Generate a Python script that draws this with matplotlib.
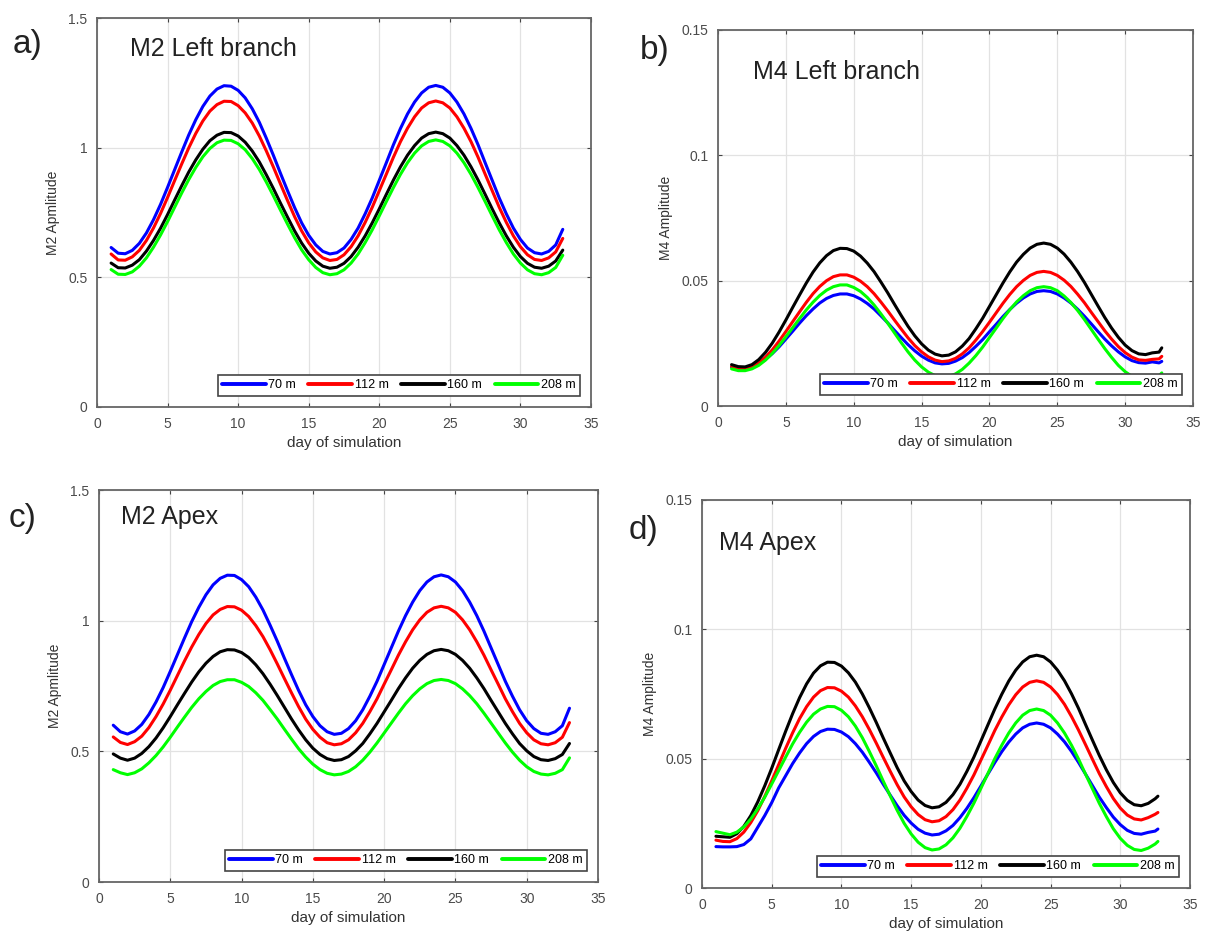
import numpy as np
import matplotlib.pyplot as plt

plt.rcParams['font.family'] = ['Liberation Sans', 'DejaVu Sans']

# ----------------------------
# data (half-day samples)
# ----------------------------
days_m2 = [1 + 0.5 * i for i in range(65)]
days_m4 = [1 + 0.5 * i for i in range(64)] + [32.7]
depths = ['70 m', '112 m', '160 m', '208 m']
colors = ['#0000ff', '#ff0000', '#000000', '#00ff00']

# a) M2 left branch
a_70 = [0.615, 0.593, 0.591, 0.604, 0.631, 0.671, 0.722, 0.781, 0.847, 0.915, 0.983, 1.049, 1.108, 1.159, 1.199, 1.226,
        1.239, 1.237, 1.221, 1.192, 1.150, 1.098, 1.036, 0.970, 0.901, 0.834, 0.769, 0.710, 0.662, 0.625, 0.600, 0.590,
        0.595, 0.613, 0.646, 0.690, 0.745, 0.806, 0.874, 0.942, 1.011, 1.074, 1.130, 1.176, 1.211, 1.233, 1.240, 1.233,
        1.211, 1.176, 1.130, 1.074, 1.011, 0.942, 0.874, 0.806, 0.745, 0.690, 0.646, 0.613, 0.595, 0.590, 0.600, 0.625,
        0.685]
a_112 = [0.590, 0.567, 0.566, 0.579, 0.604, 0.642, 0.690, 0.746, 0.808, 0.873, 0.937, 0.999, 1.055, 1.103, 1.141, 1.166,
         1.179, 1.178, 1.162, 1.134, 1.095, 1.045, 0.987, 0.925, 0.860, 0.796, 0.734, 0.679, 0.633, 0.598, 0.575, 0.565,
         0.569, 0.587, 0.618, 0.660, 0.712, 0.770, 0.834, 0.898, 0.963, 1.023, 1.075, 1.119, 1.153, 1.173, 1.180, 1.173,
         1.153, 1.119, 1.075, 1.023, 0.963, 0.898, 0.834, 0.770, 0.712, 0.660, 0.618, 0.587, 0.569, 0.565, 0.575, 0.598,
         0.650]
a_160 = [0.555, 0.537, 0.536, 0.547, 0.568, 0.601, 0.642, 0.689, 0.742, 0.798, 0.853, 0.906, 0.953, 0.994, 1.027, 1.048,
         1.059, 1.058, 1.045, 1.021, 0.987, 0.945, 0.895, 0.842, 0.786, 0.732, 0.679, 0.632, 0.593, 0.563, 0.543, 0.535,
         0.539, 0.554, 0.580, 0.616, 0.660, 0.710, 0.764, 0.820, 0.875, 0.926, 0.971, 1.008, 1.037, 1.054, 1.060, 1.054,
         1.037, 1.008, 0.971, 0.926, 0.875, 0.820, 0.764, 0.710, 0.660, 0.616, 0.580, 0.554, 0.539, 0.535, 0.543, 0.563,
         0.605]
a_208 = [0.530, 0.512, 0.511, 0.521, 0.543, 0.575, 0.616, 0.663, 0.715, 0.770, 0.825, 0.877, 0.924, 0.965, 0.997, 1.019,
         1.029, 1.028, 1.015, 0.992, 0.958, 0.916, 0.867, 0.814, 0.759, 0.705, 0.653, 0.606, 0.568, 0.538, 0.518, 0.510,
         0.514, 0.529, 0.555, 0.590, 0.634, 0.683, 0.737, 0.792, 0.846, 0.897, 0.942, 0.979, 1.007, 1.024, 1.030, 1.024,
         1.007, 0.979, 0.942, 0.897, 0.846, 0.792, 0.737, 0.683, 0.634, 0.590, 0.555, 0.529, 0.514, 0.510, 0.518, 0.538,
         0.585]

# b) M4 left branch
b_70 = [0.0155, 0.0149, 0.0149, 0.0155, 0.0167, 0.0186, 0.0209, 0.0236, 0.0267, 0.0298, 0.0330, 0.0360, 0.0387, 0.0411,
        0.0429, 0.0441, 0.0447, 0.0447, 0.0440, 0.0427, 0.0409, 0.0387, 0.0360, 0.0332, 0.0302, 0.0273, 0.0245, 0.0220,
        0.0199, 0.0183, 0.0172, 0.0168, 0.0170, 0.0179, 0.0193, 0.0213, 0.0238, 0.0265, 0.0296, 0.0326, 0.0357, 0.0385,
        0.0410, 0.0431, 0.0447, 0.0457, 0.0460, 0.0457, 0.0447, 0.0431, 0.0411, 0.0386, 0.0358, 0.0328, 0.0297, 0.0267,
        0.0240, 0.0216, 0.0196, 0.0181, 0.0173, 0.0171, 0.0176, 0.0172, 0.0178]
b_112 = [0.0158, 0.0150, 0.0149, 0.0156, 0.0172, 0.0195, 0.0224, 0.0259, 0.0297, 0.0336, 0.0375, 0.0413, 0.0448, 0.0477,
         0.0500, 0.0516, 0.0523, 0.0523, 0.0514, 0.0498, 0.0476, 0.0448, 0.0415, 0.0380, 0.0343, 0.0307, 0.0272, 0.0241,
         0.0216, 0.0196, 0.0183, 0.0177, 0.0180, 0.0190, 0.0208, 0.0232, 0.0263, 0.0297, 0.0334, 0.0372, 0.0410, 0.0445,
         0.0476, 0.0501, 0.0521, 0.0533, 0.0537, 0.0533, 0.0521, 0.0502, 0.0477, 0.0446, 0.0412, 0.0374, 0.0337, 0.0300,
         0.0267, 0.0237, 0.0213, 0.0195, 0.0184, 0.0182, 0.0186, 0.0188, 0.0198]
b_160 = [0.0165, 0.0157, 0.0156, 0.0165, 0.0185, 0.0214, 0.0251, 0.0295, 0.0343, 0.0393, 0.0442, 0.0490, 0.0534, 0.0571,
         0.0600, 0.0620, 0.0629, 0.0628, 0.0618, 0.0598, 0.0570, 0.0536, 0.0495, 0.0452, 0.0406, 0.0361, 0.0318, 0.0280,
         0.0248, 0.0223, 0.0207, 0.0200, 0.0203, 0.0216, 0.0239, 0.0269, 0.0308, 0.0350, 0.0397, 0.0444, 0.0491, 0.0535,
         0.0574, 0.0605, 0.0630, 0.0645, 0.0650, 0.0645, 0.0630, 0.0606, 0.0574, 0.0536, 0.0493, 0.0446, 0.0399, 0.0353,
         0.0311, 0.0274, 0.0243, 0.0221, 0.0208, 0.0205, 0.0212, 0.0215, 0.0232]
b_208 = [0.0148, 0.0141, 0.0141, 0.0148, 0.0162, 0.0183, 0.0210, 0.0241, 0.0276, 0.0312, 0.0348, 0.0383, 0.0414, 0.0441,
         0.0462, 0.0476, 0.0483, 0.0483, 0.0473, 0.0457, 0.0433, 0.0403, 0.0368, 0.0331, 0.0292, 0.0253, 0.0216, 0.0183,
         0.0156, 0.0135, 0.0121, 0.0115, 0.0118, 0.0128, 0.0146, 0.0171, 0.0201, 0.0235, 0.0273, 0.0311, 0.0349, 0.0384,
         0.0415, 0.0440, 0.0460, 0.0472, 0.0476, 0.0472, 0.0460, 0.0439, 0.0413, 0.0381, 0.0345, 0.0306, 0.0267, 0.0229,
         0.0194, 0.0162, 0.0137, 0.0118, 0.0108, 0.0105, 0.0111, 0.0120, 0.0132]

# c) M2 apex
c_70 = [0.600, 0.575, 0.566, 0.578, 0.603, 0.641, 0.689, 0.744, 0.806, 0.870, 0.934, 0.996, 1.051, 1.099, 1.137, 1.162,
        1.174, 1.173, 1.157, 1.130, 1.090, 1.041, 0.983, 0.922, 0.857, 0.794, 0.733, 0.678, 0.633, 0.598, 0.575, 0.565,
        0.569, 0.587, 0.617, 0.659, 0.711, 0.768, 0.832, 0.896, 0.960, 1.019, 1.071, 1.115, 1.148, 1.168, 1.175, 1.168,
        1.148, 1.115, 1.071, 1.019, 0.960, 0.896, 0.832, 0.768, 0.711, 0.659, 0.617, 0.587, 0.569, 0.565, 0.575, 0.598,
        0.665]
c_112 = [0.555, 0.534, 0.526, 0.537, 0.558, 0.591, 0.633, 0.681, 0.734, 0.790, 0.846, 0.899, 0.947, 0.989, 1.022, 1.043,
         1.054, 1.053, 1.040, 1.016, 0.981, 0.939, 0.889, 0.835, 0.779, 0.724, 0.671, 0.623, 0.584, 0.554, 0.533, 0.525,
         0.529, 0.544, 0.571, 0.607, 0.652, 0.701, 0.757, 0.812, 0.868, 0.919, 0.965, 1.003, 1.032, 1.049, 1.055, 1.049,
         1.032, 1.003, 0.965, 0.919, 0.868, 0.812, 0.757, 0.701, 0.652, 0.607, 0.571, 0.544, 0.529, 0.525, 0.533, 0.554,
         0.610]
c_160 = [0.490, 0.474, 0.466, 0.474, 0.492, 0.518, 0.551, 0.590, 0.633, 0.678, 0.722, 0.765, 0.804, 0.837, 0.863, 0.881,
         0.889, 0.888, 0.878, 0.859, 0.831, 0.797, 0.757, 0.714, 0.669, 0.624, 0.582, 0.544, 0.512, 0.488, 0.472, 0.465,
         0.468, 0.480, 0.502, 0.530, 0.567, 0.607, 0.651, 0.695, 0.740, 0.781, 0.818, 0.848, 0.871, 0.885, 0.890, 0.885,
         0.871, 0.848, 0.818, 0.781, 0.740, 0.695, 0.651, 0.607, 0.567, 0.530, 0.502, 0.480, 0.468, 0.465, 0.472, 0.488,
         0.530]
c_208 = [0.430, 0.418, 0.411, 0.418, 0.433, 0.456, 0.484, 0.517, 0.554, 0.593, 0.631, 0.668, 0.701, 0.729, 0.752, 0.767,
         0.774, 0.774, 0.764, 0.748, 0.724, 0.695, 0.660, 0.624, 0.585, 0.547, 0.510, 0.478, 0.451, 0.430, 0.416, 0.410,
         0.413, 0.423, 0.441, 0.466, 0.497, 0.532, 0.570, 0.608, 0.646, 0.682, 0.713, 0.739, 0.759, 0.771, 0.775, 0.771,
         0.759, 0.739, 0.713, 0.682, 0.646, 0.608, 0.570, 0.532, 0.497, 0.466, 0.441, 0.423, 0.413, 0.410, 0.416, 0.430,
         0.475]

# d) M4 apex
d_70 = [0.0160, 0.0159, 0.0159, 0.0160, 0.0168, 0.0190, 0.0235, 0.0280, 0.0330, 0.0387, 0.0434, 0.0481, 0.0522, 0.0558,
        0.0586, 0.0605, 0.0614, 0.0613, 0.0603, 0.0585, 0.0558, 0.0525, 0.0486, 0.0445, 0.0401, 0.0359, 0.0318, 0.0281,
        0.0251, 0.0227, 0.0212, 0.0205, 0.0208, 0.0221, 0.0242, 0.0272, 0.0308, 0.0349, 0.0394, 0.0440, 0.0485, 0.0527,
        0.0564, 0.0595, 0.0619, 0.0633, 0.0638, 0.0633, 0.0619, 0.0595, 0.0565, 0.0528, 0.0486, 0.0441, 0.0396, 0.0351,
        0.0311, 0.0274, 0.0245, 0.0223, 0.0211, 0.0208, 0.0215, 0.0220, 0.0228]
d_112 = [0.0185, 0.0180, 0.0179, 0.0191, 0.0216, 0.0253, 0.0299, 0.0354, 0.0414, 0.0477, 0.0540, 0.0600, 0.0655, 0.0701,
         0.0738, 0.0763, 0.0775, 0.0774, 0.0761, 0.0738, 0.0704, 0.0662, 0.0613, 0.0560, 0.0505, 0.0451, 0.0399, 0.0352,
         0.0314, 0.0284, 0.0264, 0.0256, 0.0260, 0.0276, 0.0303, 0.0340, 0.0386, 0.0437, 0.0494, 0.0551, 0.0609, 0.0661,
         0.0708, 0.0747, 0.0777, 0.0795, 0.0801, 0.0795, 0.0777, 0.0748, 0.0710, 0.0663, 0.0611, 0.0555, 0.0498, 0.0442,
         0.0392, 0.0346, 0.0309, 0.0282, 0.0267, 0.0263, 0.0272, 0.0285, 0.0292]
d_160 = [0.0200, 0.0198, 0.0196, 0.0210, 0.0238, 0.0280, 0.0333, 0.0395, 0.0463, 0.0535, 0.0606, 0.0674, 0.0736, 0.0789,
         0.0831, 0.0859, 0.0873, 0.0872, 0.0858, 0.0832, 0.0796, 0.0750, 0.0697, 0.0640, 0.0580, 0.0522, 0.0465, 0.0414,
         0.0373, 0.0340, 0.0319, 0.0310, 0.0314, 0.0331, 0.0361, 0.0401, 0.0451, 0.0506, 0.0568, 0.0630, 0.0692, 0.0749,
         0.0800, 0.0842, 0.0874, 0.0894, 0.0900, 0.0894, 0.0874, 0.0842, 0.0801, 0.0751, 0.0695, 0.0633, 0.0572, 0.0512,
         0.0457, 0.0408, 0.0368, 0.0339, 0.0322, 0.0318, 0.0327, 0.0345, 0.0355]
d_208 = [0.0218, 0.0212, 0.0206, 0.0216, 0.0236, 0.0267, 0.0306, 0.0351, 0.0402, 0.0454, 0.0506, 0.0557, 0.0602, 0.0641,
         0.0672, 0.0692, 0.0702, 0.0701, 0.0687, 0.0662, 0.0626, 0.0581, 0.0528, 0.0472, 0.0413, 0.0356, 0.0300, 0.0250,
         0.0209, 0.0177, 0.0156, 0.0147, 0.0151, 0.0167, 0.0194, 0.0231, 0.0277, 0.0328, 0.0385, 0.0442, 0.0500, 0.0552,
         0.0599, 0.0638, 0.0668, 0.0686, 0.0692, 0.0686, 0.0668, 0.0638, 0.0599, 0.0552, 0.0499, 0.0441, 0.0384, 0.0327,
         0.0276, 0.0229, 0.0192, 0.0165, 0.0149, 0.0145, 0.0154, 0.0170, 0.0180]

m2_ticks = [0, 0.5, 1, 1.5]
m2_labels = ['0', '0.5', '1', '1.5']
m4_ticks = [0, 0.05, 0.1, 0.15]
m4_labels = ['0', '0.05', '0.1', '0.15']

# ----------------------------
# figure layout (pixel boxes)
# ----------------------------
W, H = 1209, 935
fig = plt.figure(figsize=(W / 100, H / 100), dpi=100)


def box(left, top, right, bottom):
    return [left / W, 1 - bottom / H, (right - left) / W, (bottom - top) / H]


panels = [
    dict(rect=box(97, 18, 591, 407), x=days_m2, ys=[a_70, a_112, a_160, a_208],
         ticks=m2_ticks, labels=m2_labels, ylabel='M2 Apmlitude',
         title='M2 Left branch', tpos=(0.067, 0.92), tag='a)', tagpos=(28, 45)),
    dict(rect=box(718, 30, 1193, 406), x=days_m4, ys=[b_70, b_112, b_160, b_208],
         ticks=m4_ticks, labels=m4_labels, ylabel='M4 Amplitude',
         title='M4 Left branch', tpos=(0.074, 0.888), tag='b)', tagpos=(655, 50)),
    dict(rect=box(99, 490, 598, 882), x=days_m2, ys=[c_70, c_112, c_160, c_208],
         ticks=m2_ticks, labels=m2_labels, ylabel='M2 Apmlitude',
         title='M2 Apex', tpos=(0.045, 0.93), tag='c)', tagpos=(23, 518)),
    dict(rect=box(702, 500, 1190, 888), x=days_m4, ys=[d_70, d_112, d_160, d_208],
         ticks=m4_ticks, labels=m4_labels, ylabel='M4 Amplitude',
         title='M4 Apex', tpos=(0.035, 0.89), tag='d)', tagpos=(644, 530)),
]

for p in panels:
    ax = fig.add_axes(p['rect'])

    for y, c, lab in zip(p['ys'], colors, depths):
        ax.plot(p['x'], y, color=c, linewidth=2.2, label=lab,
                solid_joinstyle='round', solid_capstyle='round')

    ax.set_xlim(0, 35)
    ax.set_ylim(0, p['ticks'][-1])
    ax.set_xticks(range(0, 36, 5))
    ax.set_yticks(p['ticks'])
    ax.set_yticklabels(p['labels'])

    ax.grid(True, color='#e2e2e2', linewidth=0.9)
    ax.set_axisbelow(True)
    ax.tick_params(direction='in', top=True, right=True, length=3, width=0.8,
                   color='#444444', labelsize=10, labelcolor='#4a4a4a', pad=7)
    for sp in ax.spines.values():
        sp.set_color('#666666')
        sp.set_linewidth(1.3)

    ax.set_xlabel('day of simulation', fontsize=11, color='#333333', labelpad=4)
    ax.set_ylabel(p['ylabel'], fontsize=10, color='#333333', labelpad=6)

    ax.text(p['tpos'][0], p['tpos'][1], p['title'], transform=ax.transAxes,
            fontsize=18, color='#222222', ha='left', va='center')

    leg = ax.legend(loc='lower right', ncol=4, fontsize=9, handlelength=3.5,
                    handletextpad=0.2, columnspacing=1.0, borderpad=0.35,
                    borderaxespad=0.9, fancybox=False, edgecolor='#444444',
                    framealpha=1)
    leg.get_frame().set_linewidth(1.2)
    for line in leg.get_lines():
        line.set_linewidth(2.8)

    fig.text(p['tagpos'][0] / W, 1 - p['tagpos'][1] / H, p['tag'],
             fontsize=24, color='#222222', ha='center', va='center')

fig.savefig('out.png', dpi=100)
